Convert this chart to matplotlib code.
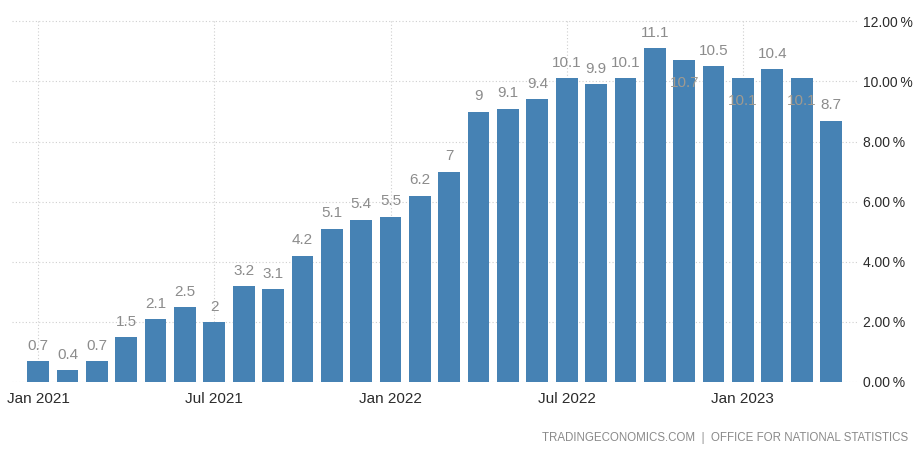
import numpy as np
import matplotlib.pyplot as plt
from matplotlib.ticker import FuncFormatter

# UK inflation rate, monthly, Jan 2021 - Apr 2023
months = ["Jan 2021", "Feb 2021", "Mar 2021", "Apr 2021", "May 2021", "Jun 2021",
          "Jul 2021", "Aug 2021", "Sep 2021", "Oct 2021", "Nov 2021", "Dec 2021",
          "Jan 2022", "Feb 2022", "Mar 2022", "Apr 2022", "May 2022", "Jun 2022",
          "Jul 2022", "Aug 2022", "Sep 2022", "Oct 2022", "Nov 2022", "Dec 2022",
          "Jan 2023", "Feb 2023", "Mar 2023", "Apr 2023"]
values = [0.7, 0.4, 0.7, 1.5, 2.1, 2.5, 2.0, 3.2, 3.1, 4.2, 5.1, 5.4,
          5.5, 6.2, 7.0, 9.0, 9.1, 9.4, 10.1, 9.9, 10.1, 11.1, 10.7, 10.5,
          10.1, 10.4, 10.1, 8.7]
tick_labels = ["Jan 2021", "Jul 2021", "Jan 2022", "Jul 2022", "Jan 2023"]
y_ticks = [0, 2, 4, 6, 8, 10, 12]

# labels pushed down into the bar where they would clash with neighbours
inside = {"Nov 2022", "Jan 2023", "Mar 2023"}

bar_color = "#4682B4"
grid_color = "#cfcfcf"
plt.rcParams["font.family"] = ["Liberation Sans", "DejaVu Sans"]

fig = plt.figure(figsize=(9.2, 4.51), dpi=100)
ax = fig.add_axes([0.013, 0.153, 0.919, 0.803])

x = np.arange(len(months))
ax.bar(x, values, width=0.74, color=bar_color, zorder=2)

for xi, m, v in zip(x, months, values):
    if m in inside:
        ax.annotate(f"{v:g}", (xi, v), xytext=(0, -16), textcoords="offset points",
                    ha="center", va="center", fontsize=11, color="#a09a90",
                    zorder=3)
    else:
        ax.annotate(f"{v:g}", (xi, v), xytext=(0, 11), textcoords="offset points",
                    ha="center", va="center", fontsize=11, color="#8c8c8c",
                    zorder=3)

ax.set_xlim(-0.89, 27.9)
ax.set_ylim(0, 12.05)

ax.set_xticks([months.index(t) for t in tick_labels])
ax.set_xticklabels(tick_labels)
ax.set_yticks(y_ticks)
ax.yaxis.set_major_formatter(FuncFormatter(lambda v, p: f"{v:.2f}\u2009%"))
ax.yaxis.tick_right()

ax.tick_params(axis="x", length=0, labelsize=11, labelcolor="#2b2b2b", pad=7)
ax.tick_params(axis="y", length=0, labelsize=10, labelcolor="#2b2b2b", pad=4)

ax.grid(True, linestyle=(0, (1, 2)), color=grid_color, linewidth=0.8, zorder=0)
ax.set_axisbelow(True)
for s in ax.spines.values():
    s.set_visible(False)

fig.text(0.987, 0.028, "TRADINGECONOMICS.COM  |  OFFICE FOR NATIONAL STATISTICS",
         ha="right", va="center", fontsize=8.3, color="#8a8a8a")

fig.savefig("out.png", dpi=100)
